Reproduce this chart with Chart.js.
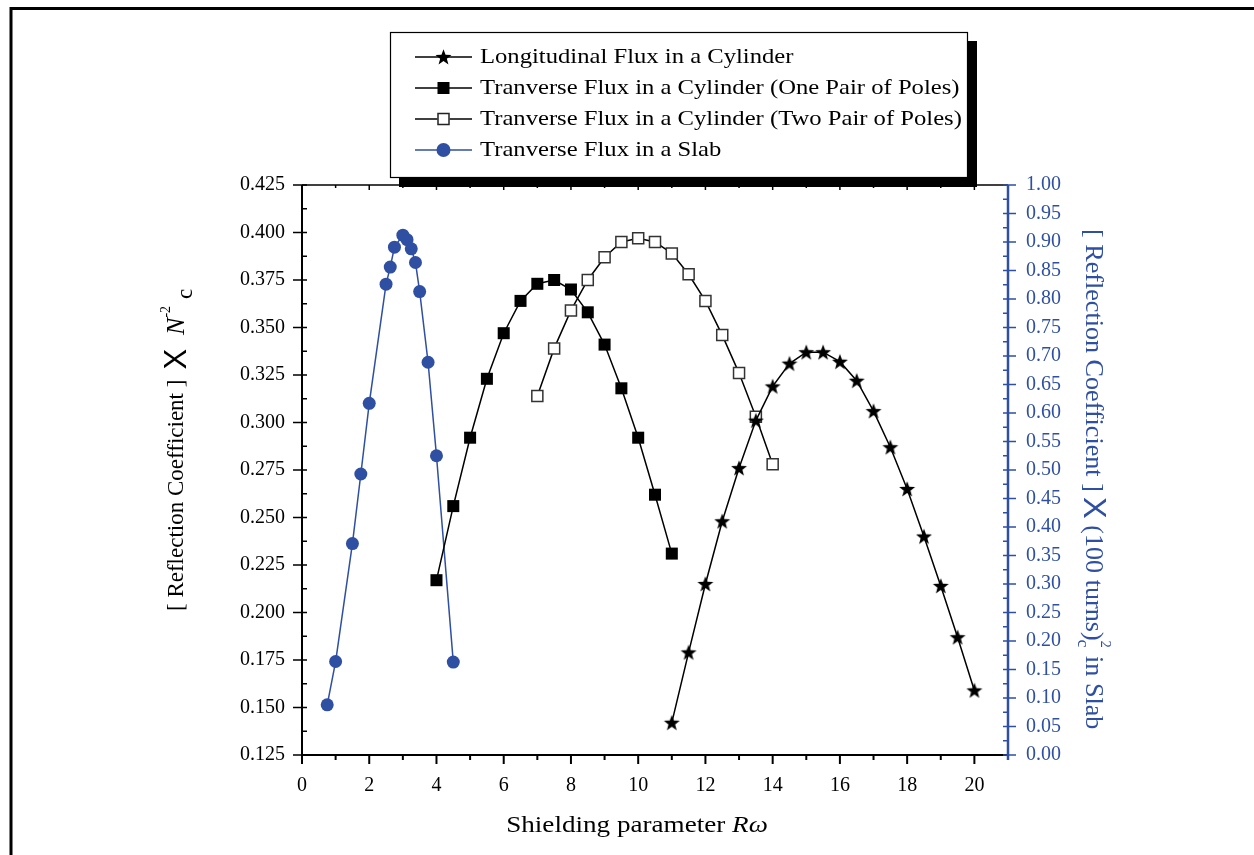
<!DOCTYPE html>
<html>
<head>
<meta charset="utf-8">
<title>Reflection coefficient vs shielding parameter</title>
<script src="https://cdn.jsdelivr.net/npm/chart.js@4.4.1/dist/chart.umd.min.js"></script>
<style>
  html, body { margin: 0; padding: 0; background: #fff; }
  #wrap { width: 1254px; height: 855px; }
</style>
</head>
<body>
<div id="wrap"><canvas id="chart" width="1254" height="855"></canvas></div>
<script>
// series (x = shielding parameter R-omega)
const seriesNames = [
    'Longitudinal Flux in a Cylinder',
    'Tranverse Flux in a Cylinder (One Pair of Poles)',
    'Tranverse Flux in a Cylinder (Two Pair of Poles)',
    'Tranverse Flux in a Slab'
];

const longX = [11, 11.5, 12, 12.5, 13, 13.5, 14, 14.5, 15, 15.5, 16, 16.5, 17, 17.5, 18, 18.5, 19, 19.5, 20];
const longY = [0.142, 0.179, 0.215, 0.248, 0.276, 0.301, 0.319, 0.331, 0.337, 0.337, 0.332, 0.322, 0.306, 0.287, 0.265, 0.240, 0.214, 0.187, 0.159];

const onePairX = [4, 4.5, 5, 5.5, 6, 6.5, 7, 7.5, 8, 8.5, 9, 9.5, 10, 10.5, 11];
const onePairY = [0.217, 0.256, 0.292, 0.323, 0.347, 0.364, 0.373, 0.375, 0.370, 0.358, 0.341, 0.318, 0.292, 0.262, 0.231];

const twoPairX = [7, 7.5, 8, 8.5, 9, 9.5, 10, 10.5, 11, 11.5, 12, 12.5, 13, 13.5, 14];
const twoPairY = [0.314, 0.339, 0.359, 0.375, 0.387, 0.395, 0.397, 0.395, 0.389, 0.378, 0.364, 0.346, 0.326, 0.303, 0.278];

// slab series is read against the right-hand (blue) axis
const slabX = [0.75, 1, 1.5, 1.75, 2, 2.5, 2.625, 2.75, 3, 3.125, 3.25, 3.375, 3.5, 3.75, 4, 4.5];
const slabY = [0.088, 0.164, 0.371, 0.493, 0.617, 0.826, 0.856, 0.891, 0.912, 0.904, 0.888, 0.864, 0.813, 0.689, 0.525, 0.163];

const leftTicks = { min: 0.125, max: 0.425, step: 0.025 };
const rightTicks = { min: 0, max: 1, step: 0.05 };
const xTicks = { min: 0, max: 21, step: 2 };

const BLUE = '#2f4fa2';
const SERIF = "'Liberation Serif', 'DejaVu Serif', serif";
const SANS = "Arial, 'Liberation Sans', sans-serif";

function toPoints(xs, ys) {
    return xs.map((x, i) => ({ x: x, y: ys[i] }));
}

function starPath(ctx, cx, cy, outer, inner) {
    ctx.beginPath();
    for (let i = 0; i < 10; i++) {
        const r = i % 2 === 0 ? outer : inner;
        const a = -Math.PI / 2 + i * Math.PI / 5;
        const px = cx + r * Math.cos(a), py = cy + r * Math.sin(a);
        if (i === 0) ctx.moveTo(px, py); else ctx.lineTo(px, py);
    }
    ctx.closePath();
}

// filled star marker as an image, chart.js star is only an asterisk
const starImg = document.createElement('canvas');
starImg.width = 18;
starImg.height = 18;
(function() {
    const c = starImg.getContext('2d');
    c.fillStyle = '#000';
    starPath(c, 9, 9.6, 8.4, 3.5);
    c.fill();
})();

// draws a run of text pieces starting at (x, y), rotated by angle,
// stretched along the text direction (the original face is wider)
function drawRich(ctx, parts, x, y, angle, color, stretch, align) {
    ctx.save();
    ctx.fillStyle = color;
    ctx.textBaseline = 'middle';
    ctx.textAlign = 'left';
    let total = 0;
    parts.forEach(p => {
        if (p.gap !== undefined) {
            p.w = p.gap;
        } else {
            ctx.font = p.font;
            p.w = ctx.measureText(p.text).width + (p.after || 0);
        }
        total += p.w;
    });
    ctx.translate(x, y);
    ctx.rotate(angle);
    ctx.scale(stretch, 1);
    let cx = align === 'center' ? -total / 2 : 0;
    parts.forEach(p => {
        if (p.text !== undefined) {
            ctx.font = p.font;
            ctx.fillText(p.text, cx, p.dy || 0);
        }
        cx += p.w;
    });
    ctx.restore();
}

const framePlugin = {
    id: 'frame',
    afterDraw(chart) {
        const ctx = chart.ctx;
        const a = chart.chartArea;
        const sx = chart.scales.x, sy = chart.scales.y, sy1 = chart.scales.y1;

        ctx.save();
        ctx.lineCap = 'butt';

        // outer figure frame (top and left edges only)
        ctx.strokeStyle = '#000';
        ctx.lineWidth = 3;
        ctx.beginPath();
        ctx.moveTo(11, 855);
        ctx.lineTo(11, 8.5);
        ctx.lineTo(1254, 8.5);
        ctx.stroke();

        // bottom axis + ticks
        ctx.lineWidth = 2;
        ctx.beginPath();
        ctx.moveTo(a.left - 1, a.bottom);
        ctx.lineTo(a.right, a.bottom);
        ctx.stroke();
        for (let v = xTicks.min; v <= xTicks.max; v += 1) {
            const px = sx.getPixelForValue(v);
            const len = v % 2 === 0 ? 9 : 5;
            ctx.beginPath();
            ctx.moveTo(px, a.bottom);
            ctx.lineTo(px, a.bottom + len);
            ctx.stroke();
        }

        // top axis + inward ticks
        ctx.lineWidth = 1.5;
        ctx.beginPath();
        ctx.moveTo(a.left, a.top);
        ctx.lineTo(a.right, a.top);
        ctx.stroke();
        for (let v = xTicks.min; v <= xTicks.max; v += 1) {
            const px = sx.getPixelForValue(v);
            ctx.beginPath();
            ctx.moveTo(px, a.top);
            ctx.lineTo(px, a.top + (v % 2 === 0 ? 5 : 3));
            ctx.stroke();
        }

        // left axis
        ctx.lineWidth = 2;
        ctx.beginPath();
        ctx.moveTo(a.left, a.top);
        ctx.lineTo(a.left, a.bottom + 5);
        ctx.stroke();
        ctx.lineWidth = 1.5;
        const nLeft = Math.round((leftTicks.max - leftTicks.min) / (leftTicks.step / 2));
        for (let i = 0; i <= nLeft; i++) {
            const py = sy.getPixelForValue(leftTicks.min + i * leftTicks.step / 2);
            ctx.beginPath();
            ctx.moveTo(a.left, py);
            ctx.lineTo(a.left + 5, py);
            if (i % 2 === 0) {
                ctx.moveTo(a.left - 9, py);
                ctx.lineTo(a.left, py);
            }
            ctx.stroke();
        }

        // right axis in blue
        ctx.strokeStyle = BLUE;
        ctx.lineWidth = 2.5;
        ctx.beginPath();
        ctx.moveTo(a.right, a.top);
        ctx.lineTo(a.right, a.bottom + 5);
        ctx.stroke();
        ctx.lineWidth = 1.5;
        const nRight = Math.round((rightTicks.max - rightTicks.min) / (rightTicks.step / 2));
        for (let i = 0; i <= nRight; i++) {
            const py = sy1.getPixelForValue(rightTicks.min + i * rightTicks.step / 2);
            ctx.beginPath();
            ctx.moveTo(a.right - 5, py);
            ctx.lineTo(a.right, py);
            if (i % 2 === 0) {
                ctx.moveTo(a.right, py);
                ctx.lineTo(a.right + 8, py);
            }
            ctx.stroke();
        }
        ctx.restore();

        // axis titles
        drawRich(ctx, [
            { text: '[ Reflection Coefficient ]', font: '23px ' + SERIF },
            { gap: 10 },
            { text: 'X', font: '31px ' + SANS },
            { gap: 14 },
            { text: 'N', font: 'italic 26px ' + SERIF },
            { text: '-2', font: '14px ' + SERIF, dy: -11, after: 7 },
            { text: 'c', font: '23px ' + SERIF, dy: 9 }
        ], 177, 611, -Math.PI / 2, '#000', 1, 'start');

        drawRich(ctx, [
            { text: '[ Reflection Coefficient ]', font: '25px ' + SERIF },
            { gap: 5 },
            { text: 'X', font: '31px ' + SANS },
            { text: ' (100 turns)', font: '25px ' + SERIF },
            { text: '2', font: '14px ' + SERIF, dy: -12, after: -8 },
            { text: 'c', font: '17px ' + SERIF, dy: 11, after: 2 },
            { text: ' in Slab', font: '25px ' + SERIF }
        ], 1093, 229, Math.PI / 2, BLUE, 1.045, 'start');

        drawRich(ctx, [
            { text: 'Shielding parameter ', font: '24px ' + SERIF },
            { text: 'R\u03c9', font: 'italic 24px ' + SERIF }
        ], 637, 826, 0, '#000', 1.13, 'center');

        // legend box with drop shadow
        const lx = 390, ly = 32, lw = 578, lh = 146;
        ctx.save();
        ctx.fillStyle = '#000';
        ctx.fillRect(lx + 9, ly + 9, lw, lh);
        ctx.fillStyle = '#fff';
        ctx.fillRect(lx, ly, lw, lh);
        ctx.strokeStyle = '#000';
        ctx.lineWidth = 1.2;
        ctx.strokeRect(lx + 0.5, ly + 0.5, lw - 1, lh - 1);

        const rows = [57, 88, 119, 150];
        chart.data.datasets.forEach((ds, i) => {
            const ry = rows[i];
            ctx.strokeStyle = ds.borderColor;
            ctx.lineWidth = 1.5;
            ctx.beginPath();
            ctx.moveTo(415, ry);
            ctx.lineTo(472, ry);
            ctx.stroke();
            const mx = 443.5;
            if (i === 0) {
                ctx.fillStyle = '#000';
                starPath(ctx, mx, ry + 0.6, 8.4, 3.5);
                ctx.fill();
            } else if (i === 1) {
                ctx.fillStyle = '#000';
                ctx.fillRect(mx - 6, ry - 6, 12, 12);
            } else if (i === 2) {
                ctx.fillStyle = '#fff';
                ctx.fillRect(mx - 6, ry - 6, 12, 12);
                ctx.strokeStyle = '#222';
                ctx.lineWidth = 1.5;
                ctx.strokeRect(mx - 5.5, ry - 5.5, 11, 11);
            } else {
                ctx.fillStyle = BLUE;
                ctx.beginPath();
                ctx.arc(mx, ry, 7, 0, Math.PI * 2);
                ctx.fill();
            }
            ctx.save();
            ctx.fillStyle = '#000';
            ctx.font = '22px ' + SERIF;
            ctx.textBaseline = 'middle';
            ctx.textAlign = 'left';
            ctx.translate(480, ry);
            ctx.scale(1.12, 1);
            ctx.fillText(ds.label, 0, 0);
            ctx.restore();
        });
        ctx.restore();
    }
};

new Chart(document.getElementById('chart'), {
    type: 'scatter',
    data: {
        datasets: [
            {
                label: seriesNames[0],
                data: toPoints(longX, longY),
                yAxisID: 'y',
                showLine: true,
                borderColor: '#000',
                borderWidth: 1.5,
                pointStyle: starImg,
                pointRadius: 8
            },
            {
                label: seriesNames[1],
                data: toPoints(onePairX, onePairY),
                yAxisID: 'y',
                showLine: true,
                borderColor: '#000',
                borderWidth: 1.5,
                pointStyle: 'rect',
                pointRadius: 8.5,
                pointBackgroundColor: '#000',
                pointBorderWidth: 0
            },
            {
                label: seriesNames[2],
                data: toPoints(twoPairX, twoPairY),
                yAxisID: 'y',
                showLine: true,
                borderColor: '#000',
                borderWidth: 1.5,
                pointStyle: 'rect',
                pointRadius: 7.8,
                pointBackgroundColor: '#fff',
                pointBorderColor: '#333',
                pointBorderWidth: 1.5
            },
            {
                label: seriesNames[3],
                data: toPoints(slabX, slabY),
                yAxisID: 'y1',
                showLine: true,
                borderColor: BLUE,
                borderWidth: 1.5,
                pointStyle: 'circle',
                pointRadius: 6.5,
                pointBackgroundColor: BLUE,
                pointBorderWidth: 0
            }
        ]
    },
    options: {
        responsive: false,
        animation: false,
        layout: { padding: { top: 185, left: 0, right: 0, bottom: 0 } },
        plugins: {
            legend: { display: false },
            tooltip: { enabled: false }
        },
        scales: {
            x: {
                type: 'linear',
                position: 'bottom',
                min: xTicks.min,
                max: xTicks.max,
                grid: { display: false, drawTicks: false },
                border: { display: false },
                ticks: {
                    stepSize: xTicks.step,
                    includeBounds: false,
                    padding: 19,
                    maxRotation: 0,
                    color: '#000',
                    font: { family: SERIF, size: 20 }
                },
                afterFit(s) { s.height = 100; }
            },
            y: {
                position: 'left',
                min: leftTicks.min,
                max: leftTicks.max,
                grid: { display: false, drawTicks: false },
                border: { display: false },
                ticks: {
                    stepSize: leftTicks.step,
                    autoSkip: false,
                    padding: 17,
                    color: '#000',
                    font: { family: SERIF, size: 20 },
                    callback: v => v.toFixed(3)
                },
                afterFit(s) { s.width = 302; }
            },
            y1: {
                position: 'right',
                min: rightTicks.min,
                max: rightTicks.max,
                grid: { display: false, drawTicks: false },
                border: { display: false },
                ticks: {
                    stepSize: rightTicks.step,
                    autoSkip: false,
                    padding: 18,
                    color: BLUE,
                    font: { family: SERIF, size: 20 },
                    callback: v => v.toFixed(2)
                },
                afterFit(s) { s.width = 246; }
            }
        }
    },
    plugins: [framePlugin]
});
</script>
</body>
</html>
